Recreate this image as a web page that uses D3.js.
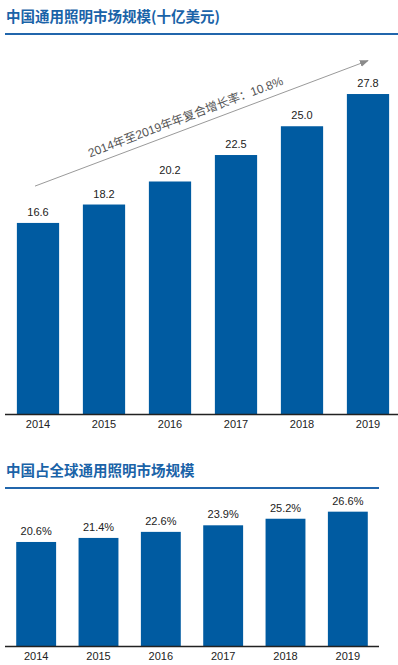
<!DOCTYPE html>
<html>
<head>
<meta charset="utf-8">
<script src="https://cdn.jsdelivr.net/npm/d3@7"></script>
<style>
  body { margin: 0; background: #fff; }
  svg text { font-family: "Liberation Sans", Arial, "Noto Sans CJK SC", sans-serif; }
  .title { font-family: "Noto Sans CJK SC", sans-serif !important; font-weight: bold; fill: #1a63a8; }
</style>
</head>
<body>
<div id="chart"></div>
<script>
const years = ['2014', '2015', '2016', '2017', '2018', '2019'];
const marketSize = [16.6, 18.2, 20.2, 22.5, 25.0, 27.8];   // 十亿美元
const globalShare = [20.6, 21.4, 22.6, 23.9, 25.2, 26.6];  // %
const cagrText = '2014年至2019年年复合增长率：10.8%';

const width = 398, height = 665;
const barColor = '#005ba1';

const svg = d3.select('#chart')
    .append('svg')
    .attr('width', width)
    .attr('height', height);

// arrow marker for the growth line
svg.append('defs').append('marker')
    .attr('id', 'arrowhead')
    .attr('viewBox', '0 0 10 10')
    .attr('refX', 9)
    .attr('refY', 5)
    .attr('markerWidth', 9)
    .attr('markerHeight', 9)
    .attr('orient', 'auto')
    .append('path')
    .attr('d', 'M0,1 L10,5 L0,9 Z')
    .attr('fill', '#8a8a8a');

function drawPanel(opts) {
    const g = svg.append('g');

    // title + underline
    g.append('text')
        .attr('class', 'title')
        .attr('x', 6)
        .attr('y', opts.titleY)
        .attr('font-size', 14.5)
        .text(opts.title);
    g.append('rect')
        .attr('x', 5)
        .attr('y', opts.titleY + 11)
        .attr('width', opts.lineEnd - 5)
        .attr('height', 2)
        .attr('fill', '#2166ac');

    const x = d3.scaleBand()
        .domain(years)
        .range([5, opts.xEnd])
        .paddingInner(0.36)
        .paddingOuter(0.18);

    const y = d3.scaleLinear()
        .domain([0, 30])
        .range([opts.base, opts.base - 30 * opts.pxPerUnit]);

    g.selectAll('rect.bar')
        .data(opts.values)
        .enter()
        .append('rect')
        .attr('class', 'bar')
        .attr('x', (d, i) => x(years[i]))
        .attr('y', d => y(d))
        .attr('width', x.bandwidth())
        .attr('height', d => opts.base - y(d))
        .attr('fill', barColor);

    g.selectAll('text.val')
        .data(opts.values)
        .enter()
        .append('text')
        .attr('class', 'val')
        .attr('x', (d, i) => x(years[i]) + x.bandwidth() / 2)
        .attr('y', d => y(d) - 7)
        .attr('text-anchor', 'middle')
        .attr('font-size', 11)
        .attr('fill', '#222')
        .text(opts.fmt);

    // x axis: plain line with labels, no ticks
    const axis = g.append('g')
        .attr('transform', `translate(0,${opts.base})`)
        .call(d3.axisBottom(x).tickSize(0).tickPadding(6));
    axis.select('.domain')
        .attr('d', `M5,0.5H${opts.axisEnd}`)
        .attr('stroke', '#222')
        .attr('stroke-width', 1.3);
    axis.selectAll('text')
        .attr('font-size', 11)
        .attr('fill', '#222')
        .style('font-family', '"Liberation Sans", Arial, sans-serif');

    return { x, y, g };
}

const sizePanel = drawPanel({
    title: '中国通用照明市场规模(十亿美元)',
    titleY: 22,
    lineEnd: 398,
    values: marketSize,
    xEnd: 401,
    axisEnd: 398,
    base: 414,
    pxPerUnit: 11.51,
    fmt: d => d.toFixed(1)
});

// CAGR arrow, anchored on the first and last bars
const sx = sizePanel.x, sy = sizePanel.y;
const x0 = sx('2014') + sx.bandwidth() / 2 - 3;
const y0 = sy(19.8);
const x1 = sx('2019') + sx.bandwidth() / 2;
const y1 = sy(30.7);
sizePanel.g.append('line')
    .attr('x1', x0).attr('y1', y0)
    .attr('x2', x1).attr('y2', y1)
    .attr('stroke', '#9a9a9a')
    .attr('stroke-width', 1)
    .attr('marker-end', 'url(#arrowhead)');

const angle = Math.atan2(y1 - y0, x1 - x0) * 180 / Math.PI;
const mx = 187, my = y0 + (y1 - y0) * (mx - x0) / (x1 - x0);
sizePanel.g.append('text')
    .attr('transform', `translate(${mx},${my - 8}) rotate(${angle})`)
    .attr('text-anchor', 'middle')
    .attr('font-size', 12)
    .attr('fill', '#555')
    .style('font-family', '"Liberation Sans", "Noto Sans CJK SC", sans-serif')
    .text(cagrText);

drawPanel({
    title: '中国占全球通用照明市场规模',
    titleY: 476,
    lineEnd: 379,
    values: globalShare,
    xEnd: 379,
    axisEnd: 379,
    base: 646,
    pxPerUnit: 5.05,
    fmt: d => d.toFixed(1) + '%'
});
</script>
</body>
</html>
